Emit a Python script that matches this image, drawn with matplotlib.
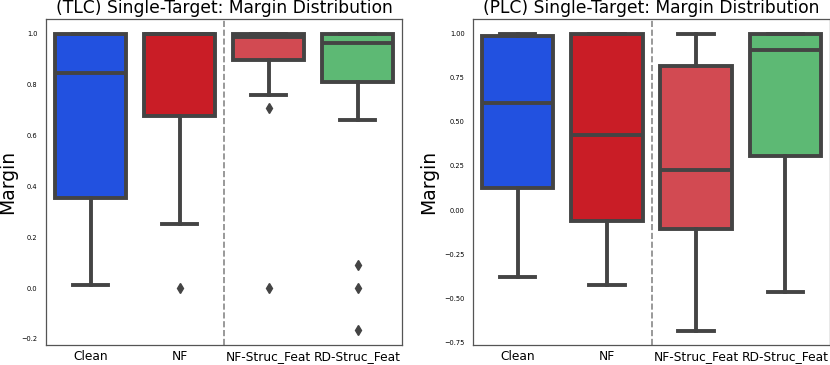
import matplotlib
matplotlib.use("Agg")
import matplotlib.pyplot as plt

# categories and colours
labels = ["Clean", "NF", "NF-Struc_Feat", "RD-Struc_Feat"]
colors = ["#2251e0", "#c91d26", "#d24a52", "#5db974"]

# (TLC) box statistics
tlc_whislo = [0.013, 0.252, 0.759, 0.660]
tlc_q1 = [0.356, 0.676, 0.898, 0.813]
tlc_med = [0.848, 1.0, 0.99, 0.963]
tlc_q3 = [1.0, 1.0, 1.0, 1.0]
tlc_whishi = [1.0, 1.0, 1.0, 1.0]
tlc_fliers = [[], [0.0], [0.708, 0.0], [0.0915, 0.0, -0.165]]

# (PLC) box statistics
plc_whislo = [-0.380, -0.427, -0.684, -0.467]
plc_q1 = [0.123, -0.064, -0.106, 0.304]
plc_med = [0.605, 0.427, 0.229, 0.907]
plc_q3 = [0.985, 1.0, 0.818, 1.0]
plc_whishi = [1.0, 1.0, 1.0, 1.0]
plc_fliers = [[], [], [], []]

edge = "#444444"


def make_stats(lo, q1, med, q3, hi, fl):
    return [dict(whislo=lo[i], q1=q1[i], med=med[i], q3=q3[i], whishi=hi[i],
                 fliers=fl[i], label=labels[i]) for i in range(len(labels))]


def draw(ax, stats, title, label_x, xpad):
    bp = ax.bxp(stats, positions=range(len(labels)), widths=0.8,
                patch_artist=True, showfliers=True,
                boxprops=dict(edgecolor=edge, linewidth=2.8),
                medianprops=dict(color=edge, linewidth=2.8),
                whiskerprops=dict(color=edge, linewidth=2.8),
                capprops=dict(color=edge, linewidth=2.8),
                flierprops=dict(marker="d", markerfacecolor=edge,
                                markeredgecolor=edge, markersize=5))
    for patch, c in zip(bp["boxes"], colors):
        patch.set_facecolor(c)
    for cap in bp["caps"]:
        x = cap.get_xdata()
        m = (x[0] + x[1]) / 2
        cap.set_xdata([m - 0.2, m + 0.2])
    ax.axvline(1.5, color="#888888", linestyle="--", linewidth=1.2)
    ax.set_xlim(-0.5, 3.5)
    ax.set_xticks(range(len(labels)))
    ax.set_xticklabels(labels, fontsize=8.8)
    ax.tick_params(axis="y", labelsize=4.8, length=0, pad=6)
    ax.tick_params(axis="x", length=0, pad=xpad)
    ax.set_ylabel("Margin", fontsize=13.5)
    ax.yaxis.set_label_coords(label_x, 0.5)
    ax.set_title(title, fontsize=12.3, pad=4)
    for s in ax.spines.values():
        s.set_color("#555555")
        s.set_linewidth(0.9)


fig = plt.figure(figsize=(8.3, 3.65), dpi=100)
ax1 = fig.add_axes([46 / 830, 20 / 365, 356 / 830, 326 / 365])
ax2 = fig.add_axes([473 / 830, 20 / 365, 357 / 830, 326 / 365])

draw(ax1, make_stats(tlc_whislo, tlc_q1, tlc_med, tlc_q3, tlc_whishi, tlc_fliers),
     "(TLC) Single-Target: Margin Distribution", -0.08, 3.5)
draw(ax2, make_stats(plc_whislo, plc_q1, plc_med, plc_q3, plc_whishi, plc_fliers),
     "(PLC) Single-Target: Margin Distribution", -0.097, 3.5)
ax1.set_ylim(-0.224, 1.059)
ax1.set_yticks([-0.2, 0.0, 0.2, 0.4, 0.6, 0.8, 1.0])
ax1.set_yticklabels(["−0.2", "0.0", "0.2", "0.4", "0.6", "0.8", "1.0"])
ax2.set_ylim(-0.766, 1.084)
ax2.set_yticks([-0.75, -0.5, -0.25, 0.0, 0.25, 0.5, 0.75, 1.0])
ax2.set_yticklabels(["−0.75", "−0.50", "−0.25", "0.00", "0.25", "0.50", "0.75", "1.00"])

fig.savefig("out.png", dpi=100)
